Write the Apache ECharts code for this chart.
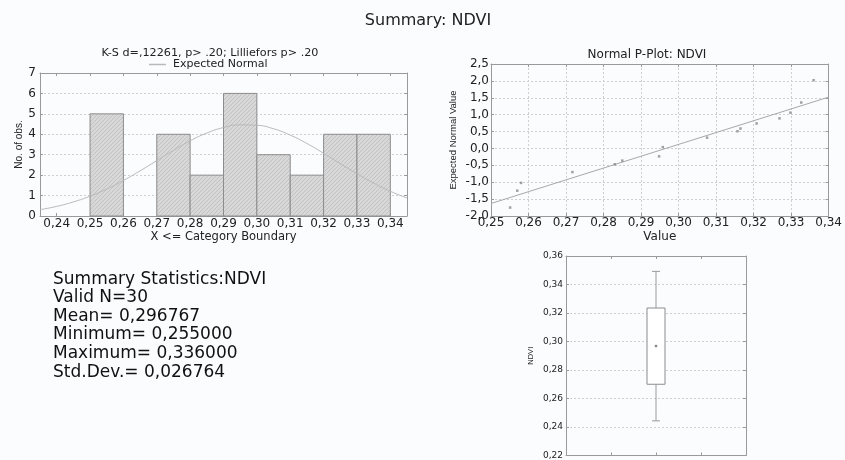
<!DOCTYPE html>
<html><head><meta charset="utf-8">
<script src="https://cdn.jsdelivr.net/npm/echarts@6/dist/echarts.min.js"></script>
<style>html,body{margin:0;padding:0;background:#fbfcfe}#c{width:845px;height:460px}</style>
</head><body><div id="c"></div><script>
// ---- data ----
const binEdges = [0.25, 0.26, 0.27, 0.28, 0.29, 0.30, 0.31, 0.32, 0.33, 0.34];
const binCounts = [5, 0, 4, 2, 6, 3, 2, 4, 4];
const curveX = [0.235,0.240,0.245,0.250,0.255,0.260,0.265,0.270,0.275,0.280,0.285,0.290,0.295,0.300,0.305,0.310,0.315,0.320,0.325,0.330,0.335,0.340,0.345];
const curveY = [0.31,0.47,0.69,0.97,1.32,1.74,2.21,2.71,3.21,3.68,4.06,4.33,4.46,4.44,4.27,3.96,3.55,3.07,2.56,2.07,1.61,1.21,0.88];
const ppX = [0.2551,0.2570,0.2580,0.2717,0.2830,0.2850,0.2948,0.2958,0.3076,0.3157,0.3165,0.3208,0.3269,0.3298,0.3327,0.3360];
const ppY = [-1.75,-1.25,-1.02,-0.70,-0.47,-0.36,-0.235,0.04,0.32,0.51,0.59,0.74,0.89,1.06,1.36,2.02];
const refLineX = [0.25, 0.34];
const refLineY = [-1.63, 1.52];
const boxStats = [0.2443, 0.2700, 0.2968, 0.3235, 0.3492]; // low whisker, box low, mean, box high, high whisker
const boxPos = [2];
const statLines = ['Summary Statistics:NDVI','Valid N=30','Mean= 0,296767','Minimum= 0,255000','Maximum= 0,336000','Std.Dev.= 0,026764'];
const mainTitle = 'Summary: NDVI';
const histTitle = 'K-S d=,12261, p> .20; Lilliefors p> .20';
const ppTitle = 'Normal P-Plot: NDVI';

// ---- styling ----
const FONT = 'DejaVu Sans';
const TXT = '#222';
const AX = '#9a9a9a';
const comma = (v, d) => v.toFixed(d).replace('.', ',');

function makePattern(){
  const c = document.createElement('canvas'); c.width = 4; c.height = 4;
  const g = c.getContext('2d'); g.fillStyle = '#d8d8d8'; g.fillRect(0,0,4,4);
  g.fillStyle = '#c2c2c2'; for (let i=0;i<4;i++) g.fillRect(i,3-i,1,1);
  return c;
}
const pat = {image: makePattern(), repeat: 'repeat'};

const grids = [
  {left: 40, top: 73, width: 367, height: 143},
  {left: 491, top: 64, width: 346, height: 152},
  {left: 566, top: 256, width: 180, height: 200}
];

function baseAxis(extra){
  return Object.assign({
    axisLine: {show: true, onZero: false, lineStyle: {color: AX}},
    axisTick: {show: true, inside: true, length: 3, lineStyle: {color: AX}},
    splitLine: {show: false},
    axisLabel: {fontFamily: FONT, fontSize: 12, color: TXT},
    nameTextStyle: {fontFamily: FONT, color: TXT}
  }, extra);
}
function mirror(a, pos){
  return Object.assign({}, a, {position: pos, name: '', axisLabel: {show: false}, splitLine: {show: false}});
}

const dash = {show: true, lineStyle: {color: '#cfcfcf', type: [2, 2]}};
const hx = baseAxis({gridIndex: 0, type: 'value', min: 0.235, max: 0.345, splitNumber: 11,
  axisLabel: {fontFamily: FONT, fontSize: 12, color: TXT, margin: 2, showMinLabel: false, showMaxLabel: false, formatter: v => comma(v, 2)},
  name: 'X <= Category Boundary', nameLocation: 'middle', nameGap: 15, nameTextStyle: {fontFamily: FONT, fontSize: 11.5, color: TXT}});
const hy = baseAxis({gridIndex: 0, type: 'value', min: 0, max: 7, interval: 1,
  axisLabel: {fontFamily: FONT, fontSize: 12, color: TXT, margin: 4},
  splitLine: dash,
  name: 'No. of obs.', nameLocation: 'middle', nameGap: 16, nameTextStyle: {fontFamily: 'Liberation Sans', fontSize: 10, color: TXT}});
const px = baseAxis({gridIndex: 1, type: 'value', min: 0.25, max: 0.34, interval: 0.01,
  axisLabel: {fontFamily: FONT, fontSize: 12, color: TXT, margin: 1, formatter: v => comma(v, 2)},
  splitLine: dash,
  name: 'Value', nameLocation: 'middle', nameGap: 15, nameTextStyle: {fontFamily: FONT, fontSize: 12, color: TXT}});
const py = baseAxis({gridIndex: 1, type: 'value', min: -2, max: 2.5, interval: 0.5,
  axisLabel: {fontFamily: FONT, fontSize: 12, color: TXT, margin: 2, formatter: v => comma(v, 1)},
  splitLine: dash,
  name: 'Expected Normal Value', nameLocation: 'middle', nameGap: 33, nameTextStyle: {fontFamily: 'Liberation Sans', fontSize: 9.5, color: TXT}});
const bx = baseAxis({gridIndex: 2, type: 'value', min: 0, max: 4, interval: 1, axisLabel: {show: false}});
const by = baseAxis({gridIndex: 2, type: 'value', min: 0.22, max: 0.36, interval: 0.02,
  axisLabel: {fontFamily: FONT, fontSize: 9, color: TXT, margin: 3, formatter: v => comma(v, 2)},
  splitLine: dash,
  name: 'NDVI', nameLocation: 'middle', nameGap: 31, nameTextStyle: {fontFamily: 'Liberation Sans', fontSize: 7.5, color: TXT}});

const xAxes = [hx, mirror(hx, 'top'), px, mirror(px, 'top'), bx, mirror(bx, 'top')];
const yAxes = [hy, mirror(hy, 'right'), py, mirror(py, 'right'), by, mirror(by, 'right')];

const histData = binCounts.map((c, i) => [binEdges[i], binEdges[i+1], c]);

const graphics = [
  {type: 'text', x: 428, y: 21, style: {text: mainTitle, font: '16px "DejaVu Sans"', fill: '#222', textAlign: 'center', textVerticalAlign: 'middle'}},
  {type: 'text', x: 210, y: 53.5, style: {text: histTitle, font: '11.2px "DejaVu Sans"', fill: '#222', textAlign: 'center', textVerticalAlign: 'middle'}},
  {type: 'text', x: 647, y: 55, style: {text: ppTitle, font: '12px "DejaVu Sans"', fill: '#222', textAlign: 'center', textVerticalAlign: 'middle'}}
];
const statY = [279.5, 298, 316.5, 335, 353.5, 372.5];
statLines.forEach((t, i) => graphics.push({type: 'text', x: 53, y: statY[i],
  style: {text: t, font: '17px "DejaVu Sans"', fill: '#111', textAlign: 'left', textVerticalAlign: 'middle'}}));

const chart = echarts.init(document.getElementById('c'), null, {renderer: 'canvas'});
chart.setOption({
  backgroundColor: '#fbfcfe',
  animation: false,
  grid: grids,
  xAxis: xAxes,
  yAxis: yAxes,
  legend: {data: ['Expected Normal'], left: 149, top: 59, padding: 0, icon: 'rect', itemWidth: 17, itemHeight: 1.5, itemGap: 4,
    textStyle: {fontFamily: FONT, fontSize: 11, color: TXT, padding: [0, 0, 0, 2]}},
  graphic: graphics,
  series: [
    {type: 'custom', xAxisIndex: 0, yAxisIndex: 0, data: histData, encode: {x: [0, 1], y: 2},
      renderItem: (params, api) => {
        const c = api.value(2); if (!c) return null;
        const p0 = api.coord([api.value(0), 0]);
        const p1 = api.coord([api.value(1), c]);
        return {type: 'rect', shape: {x: p0[0], y: p1[1], width: p1[0]-p0[0], height: p0[1]-p1[1]},
          style: {fill: pat, stroke: '#8c8c8c', lineWidth: 1}};
      }, z: 2},
    {type: 'line', name: 'Expected Normal', xAxisIndex: 0, yAxisIndex: 0, smooth: true, symbol: 'none',
      data: curveX.map((x, i) => [x, curveY[i]]), lineStyle: {color: '#b9b9b9', width: 1}, itemStyle: {color: '#b9b9b9'}, z: 3},
    {type: 'line', xAxisIndex: 2, yAxisIndex: 2, symbol: 'none',
      data: refLineX.map((x, i) => [x, refLineY[i]]), lineStyle: {color: '#a8a8a8', width: 1}, z: 3},
    {type: 'scatter', xAxisIndex: 2, yAxisIndex: 2, symbol: 'rect', symbolSize: 2.5,
      data: ppX.map((x, i) => [x, ppY[i]]), itemStyle: {color: '#8a8a8a'}, z: 4},
    {type: 'custom', xAxisIndex: 4, yAxisIndex: 4, data: boxPos.map(p => [p].concat(boxStats)), encode: {x: 0, y: [1, 5]},
      renderItem: (params, api) => {
        const x = api.value(0);
        const lo = api.coord([x, api.value(1)]), q1 = api.coord([x, api.value(2)]), mu = api.coord([x, api.value(3)]),
              q3 = api.coord([x, api.value(4)]), hi = api.coord([x, api.value(5)]);
        const hw = 9, cw = 4, st = {stroke: '#9a9a9a', lineWidth: 1};
        return {type: 'group', children: [
          {type: 'line', shape: {x1: lo[0], y1: lo[1], x2: lo[0], y2: q1[1]}, style: st},
          {type: 'line', shape: {x1: hi[0], y1: hi[1], x2: hi[0], y2: q3[1]}, style: st},
          {type: 'line', shape: {x1: lo[0]-cw, y1: lo[1], x2: lo[0]+cw, y2: lo[1]}, style: st},
          {type: 'line', shape: {x1: hi[0]-cw, y1: hi[1], x2: hi[0]+cw, y2: hi[1]}, style: st},
          {type: 'rect', shape: {x: q3[0]-hw, y: q3[1], width: 2*hw, height: q1[1]-q3[1]}, style: {fill: '#ffffff', stroke: '#8c8c8c', lineWidth: 1}},
          {type: 'rect', shape: {x: mu[0]-1.2, y: mu[1]-1.2, width: 2.4, height: 2.4}, style: {fill: '#888'}}
        ]};
      }, z: 3}
  ]
});
</script></body></html>
